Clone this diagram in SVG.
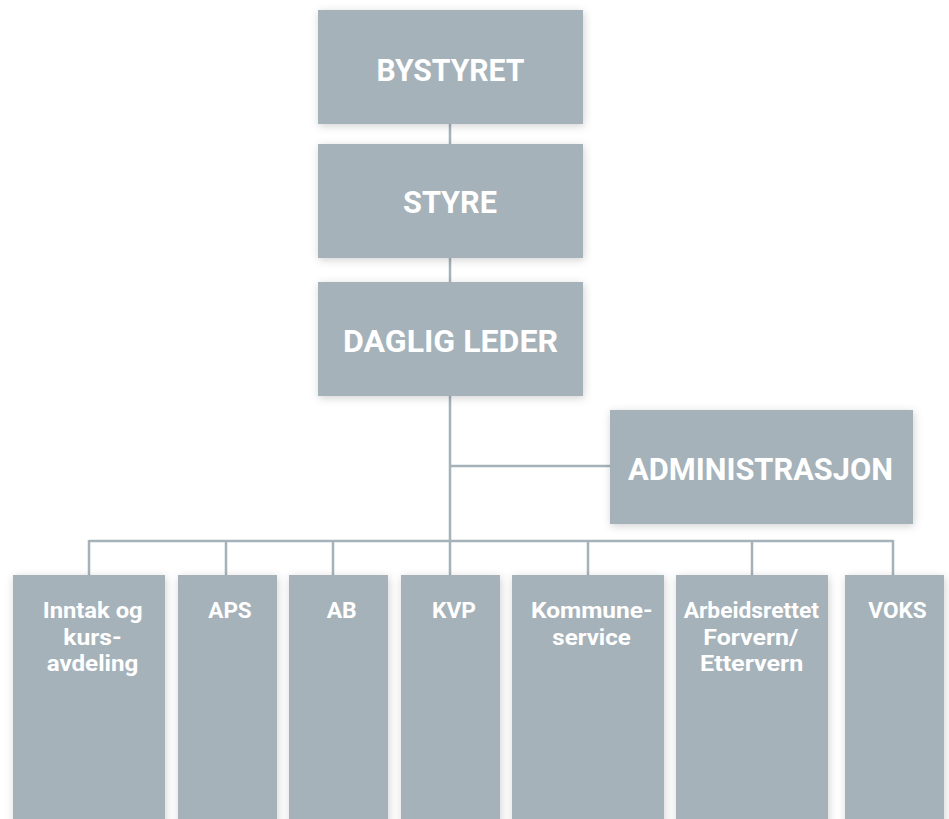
<svg xmlns="http://www.w3.org/2000/svg" width="949" height="819" viewBox="0 0 949 819">
<defs>
<filter id="sh" x="-20%" y="-20%" width="140%" height="140%">
<feDropShadow dx="1" dy="2" stdDeviation="4" flood-color="#000" flood-opacity="0.18"/>
</filter>
<style>
.box{fill:#a5b2b9;filter:url(#sh)}
.ln{stroke:#a5b2b9;stroke-width:2.5;fill:none}
.t{font-family:Roboto,"Liberation Sans",sans-serif;font-weight:bold;fill:#fff;text-anchor:middle}
.big{font-size:31.5px}
.sm{font-size:22px}
</style>
</defs>
<rect width="949" height="819" fill="#fff"/>
<g id="connectors" class="ln">
<line x1="450" y1="124" x2="450" y2="144"/>
<line x1="450" y1="258" x2="450" y2="282"/>
<line x1="450" y1="396" x2="450" y2="575"/>
<line x1="450" y1="466" x2="610" y2="466"/>
<line x1="89" y1="541" x2="893" y2="541"/>
<line x1="89" y1="540" x2="89" y2="575"/>
<line x1="226" y1="541" x2="226" y2="575"/>
<line x1="333" y1="541" x2="333" y2="575"/>
<line x1="588" y1="541" x2="588" y2="575"/>
<line x1="752" y1="541" x2="752" y2="575"/>
<line x1="893" y1="540" x2="893" y2="575"/>
</g>
<g id="bystyret"><rect class="box" x="318" y="10" width="265" height="114"/><text class="t big" x="450.5" y="80.5" textLength="148" lengthAdjust="spacingAndGlyphs">BYSTYRET</text></g>
<g id="styre"><rect class="box" x="318" y="144" width="265" height="114"/><text class="t big" x="450" y="213" textLength="94" lengthAdjust="spacingAndGlyphs">STYRE</text></g>
<g id="daglig-leder"><rect class="box" x="318" y="282" width="265" height="114"/><text class="t big" x="450.5" y="352" textLength="215" lengthAdjust="spacingAndGlyphs">DAGLIG LEDER</text></g>
<g id="administrasjon"><rect class="box" x="610" y="410" width="303" height="114"/><text class="t big" x="760.5" y="480" textLength="265" lengthAdjust="spacingAndGlyphs">ADMINISTRASJON</text></g>
<g id="inntak"><rect class="box" x="13" y="575" width="152" height="260"/>
<text class="t sm" x="92.7" y="618" textLength="100" lengthAdjust="spacingAndGlyphs">Inntak og</text>
<text class="t sm" x="92.5" y="644.7" textLength="58.4" lengthAdjust="spacingAndGlyphs">kurs-</text>
<text class="t sm" x="92.5" y="671.3" textLength="91.6" lengthAdjust="spacingAndGlyphs">avdeling</text></g>
<g id="aps"><rect class="box" x="178" y="575" width="99" height="260"/><text class="t sm" x="230" y="618" textLength="43.4" lengthAdjust="spacingAndGlyphs">APS</text></g>
<g id="ab"><rect class="box" x="289" y="575" width="99" height="260"/><text class="t sm" x="341.7" y="618" textLength="30" lengthAdjust="spacingAndGlyphs">AB</text></g>
<g id="kvp"><rect class="box" x="401" y="575" width="99" height="260"/><text class="t sm" x="454" y="618" textLength="44" lengthAdjust="spacingAndGlyphs">KVP</text></g>
<g id="kommuneservice"><rect class="box" x="512" y="575" width="152" height="260"/>
<text class="t sm" x="591.8" y="618" textLength="121.7" lengthAdjust="spacingAndGlyphs">Kommune-</text>
<text class="t sm" x="591.5" y="644.7" textLength="78.4" lengthAdjust="spacingAndGlyphs">service</text></g>
<g id="arbeidsrettet"><rect class="box" x="676" y="575" width="152" height="260"/>
<text class="t sm" x="751.3" y="618" textLength="135.3" lengthAdjust="spacingAndGlyphs">Arbeidsrettet</text>
<text class="t sm" x="750.8" y="644.7" textLength="95" lengthAdjust="spacingAndGlyphs">Forvern/</text>
<text class="t sm" x="751.7" y="671.3" textLength="103.3" lengthAdjust="spacingAndGlyphs">Ettervern</text></g>
<g id="voks"><rect class="box" x="845" y="575" width="99" height="260"/><text class="t sm" x="897.5" y="618" textLength="58.4" lengthAdjust="spacingAndGlyphs">VOKS</text></g>
</svg>
